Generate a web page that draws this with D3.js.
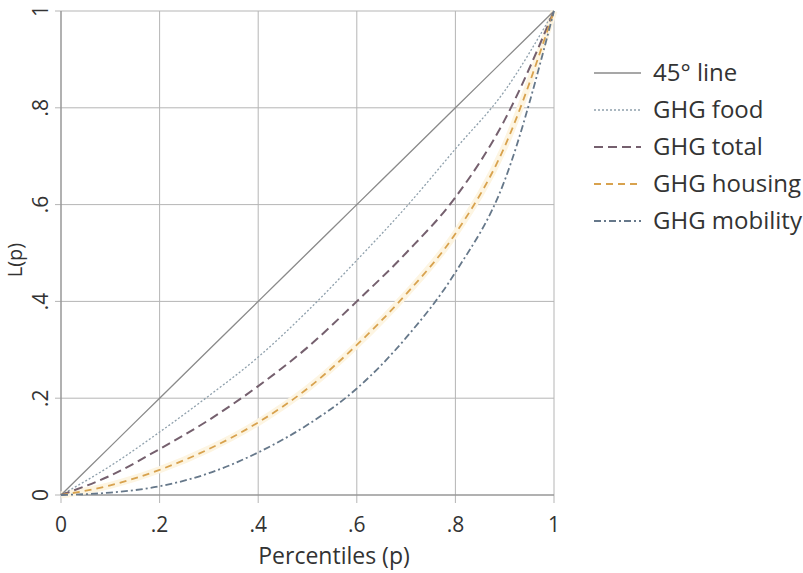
<!DOCTYPE html>
<html>
<head>
<meta charset="utf-8">
<script src="https://cdn.jsdelivr.net/npm/d3@7"></script>
<style>
  body { margin: 0; background: #fff; }
  text { font-family: "Open Sans", "Noto Sans", sans-serif; fill: #333; }
</style>
</head>
<body>
<div id="chart"></div>
<script>
// percentiles p
var pct = [0, 0.1, 0.2, 0.3, 0.4, 0.5, 0.6, 0.7, 0.8, 0.9, 1];
// Lorenz curves
var line45   = [0, 0.1, 0.2, 0.3, 0.4, 0.5, 0.6, 0.7, 0.8, 0.9, 1];
var food     = [0, 0.06, 0.13, 0.205, 0.285, 0.38, 0.485, 0.595, 0.715, 0.835, 1];
var total    = [0, 0.04, 0.095, 0.155, 0.225, 0.305, 0.40, 0.50, 0.615, 0.775, 1];
var housing  = [0, 0.02, 0.052, 0.095, 0.15, 0.22, 0.31, 0.415, 0.54, 0.72, 1];
var mobility = [0, 0.005, 0.018, 0.045, 0.088, 0.145, 0.22, 0.325, 0.46, 0.65, 1];
var tickVals = [0, 0.2, 0.4, 0.6, 0.8, 1];
var tickLabels = ["0", ".2", ".4", ".6", ".8", "1"];

var names = ["45° line", "GHG food", "GHG total", "GHG housing", "GHG mobility"];
var seriesVals = [line45, food, total, housing, mobility];
var colors = ["#8a8a8a", "#8fa0ac", "#75606e", "#d8a24e", "#66788a"];
var dashes = [null, "2,2", "9,5", "7,5", "7,3,2,3"];
var widths = [1.3, 1.3, 2, 1.8, 1.8];

var width = 803, height = 573;
var margin = { left: 61, top: 11, right: 249, bottom: 78 };

var svg = d3.select("#chart")
    .append("svg")
    .attr("width", width)
    .attr("height", height);

var x = d3.scaleLinear().domain([0, 1]).range([margin.left, width - margin.right]);
var y = d3.scaleLinear().domain([0, 1]).range([height - margin.bottom, margin.top]);

// grid
svg.append("g")
    .selectAll("line.vg")
    .data(tickVals)
    .enter()
    .append("line")
    .attr("x1", d => x(d)).attr("x2", d => x(d))
    .attr("y1", y(1)).attr("y2", y(0) + 8)
    .attr("stroke", "#b5b5b5").attr("stroke-width", 1);

svg.append("g")
    .selectAll("line.hg")
    .data(tickVals)
    .enter()
    .append("line")
    .attr("x1", x(0) - 6).attr("x2", x(1))
    .attr("y1", d => y(d)).attr("y2", d => y(d))
    .attr("stroke", "#b5b5b5").attr("stroke-width", 1);

// axis lines
svg.append("line")
    .attr("x1", x(0)).attr("x2", x(0)).attr("y1", y(0)).attr("y2", y(1))
    .attr("stroke", "#888");
svg.append("line")
    .attr("x1", x(0)).attr("x2", x(1)).attr("y1", y(0)).attr("y2", y(0))
    .attr("stroke", "#888");

// tick labels
svg.append("g")
    .selectAll("text")
    .data(tickVals)
    .enter()
    .append("text")
    .attr("x", d => x(d))
    .attr("y", y(0) + 37)
    .attr("text-anchor", "middle")
    .style("font-size", "21px")
    .text((d, i) => tickLabels[i]);

svg.append("g")
    .selectAll("text")
    .data(tickVals)
    .enter()
    .append("text")
    .attr("transform", d => "translate(" + (x(0) - 13) + "," + y(d) + ") rotate(-90)")
    .attr("text-anchor", "middle")
    .style("font-size", "21px")
    .text((d, i) => tickLabels[i]);

// axis titles
svg.append("text")
    .attr("x", 334)
    .attr("y", 564)
    .attr("text-anchor", "middle")
    .style("font-size", "23px")
    .text("Percentiles (p)");

svg.append("text")
    .attr("transform", "translate(22,260) rotate(-90)")
    .attr("text-anchor", "middle")
    .style("font-size", "20px")
    .text("L(p)");

// curves
var lineGen = d3.line()
    .x((d, i) => x(pct[i]))
    .y(d => y(d))
    .curve(d3.curveMonotoneX);

// faint glow under housing line
svg.append("path")
    .attr("d", lineGen(housing))
    .attr("fill", "none")
    .attr("stroke", "#fdf5e2")
    .attr("stroke-width", 7);

seriesVals.forEach(function(vals, i) {
    svg.append("path")
        .attr("d", lineGen(vals))
        .attr("fill", "none")
        .attr("stroke", colors[i])
        .attr("stroke-width", widths[i])
        .attr("stroke-dasharray", dashes[i]);
});

// legend
var legend = svg.append("g");
names.forEach(function(n, i) {
    var ly = 73 + i * 37;
    legend.append("line")
        .attr("x1", 594).attr("x2", 641)
        .attr("y1", ly).attr("y2", ly)
        .attr("stroke", colors[i])
        .attr("stroke-width", widths[i])
        .attr("stroke-dasharray", dashes[i]);
    legend.append("text")
        .attr("x", 653)
        .attr("y", ly + 8)
        .style("font-size", "24px")
        .text(n);
});
</script>
</body>
</html>
